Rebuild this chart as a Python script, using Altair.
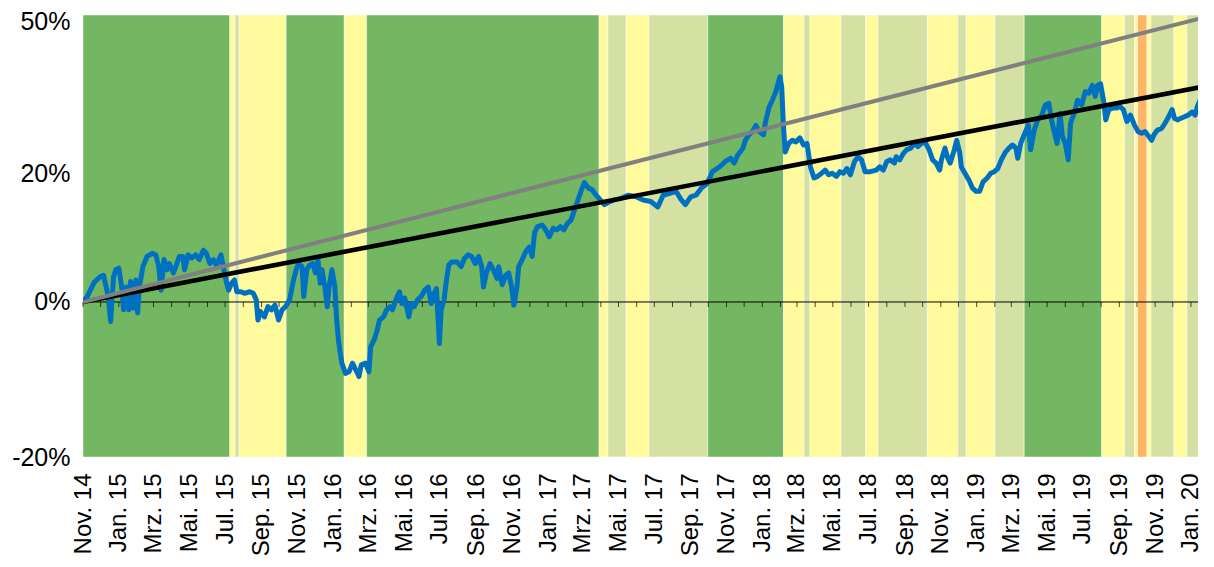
import altair as alt
import pandas as pd

START = pd.Timestamp("2014-11-01")
END_DAY = 1912       # last observation (days after START)
VISIBLE_DAY = 1899   # right edge of the visible window

# ---- background phases (start day of each phase, phase class) ----
band_start_days = [0, 250, 259, 266, 346, 445, 483, 879, 894, 925, 964, 1064,
                   1193, 1228, 1238, 1291, 1333, 1354, 1438, 1490, 1504, 1553,
                   1603, 1735, 1774, 1791, 1796, 1812, 1819, 1858, 1880]
band_phase = ["grün", "gelb", "hellgrün", "gelb", "grün", "gelb", "grün", "gelb",
              "hellgrün", "gelb", "hellgrün", "grün", "gelb", "hellgrün", "gelb",
              "hellgrün", "gelb", "hellgrün", "gelb", "hellgrün", "gelb",
              "hellgrün", "grün", "gelb", "hellgrün", "gelb", "orange", "gelb",
              "hellgrün", "gelb", "hellgrün"]
phase_names = ["grün", "hellgrün", "gelb", "orange"]
phase_colors = ["#74B762", "#D4E1A3", "#FFFA9C", "#FFB466"]

# ---- performance series (days after START, % ) ----
perf_days = [0, 8, 19, 29, 35, 38, 43, 47, 52, 56, 61, 66, 69, 74, 78, 81, 86, 90,
             93, 96, 102, 109, 118, 124, 129, 133, 138, 143, 147, 154, 158, 164,
             170, 173, 179, 185, 192, 198, 205, 210, 216, 222, 227, 235, 240, 244,
             248, 253, 258, 262, 269, 275, 284, 290, 295, 298, 302, 309, 315, 321,
             327, 333, 339, 345, 352, 358, 363, 367, 373, 376, 381, 386, 391, 396,
             400, 404, 407, 412, 416, 419, 424, 429, 432, 435, 438, 441, 447, 453,
             459, 465, 470, 474, 481, 487, 490, 496, 501, 505, 512, 517, 523, 527,
             533, 539, 543, 548, 555, 559, 564, 570, 576, 582, 588, 593, 598, 602,
             607, 610, 615, 619, 623, 628, 637, 644, 650, 656, 662, 668, 674, 679,
             682, 687, 693, 699, 705, 708, 714, 720, 725, 730, 734, 739, 742, 748,
             754, 760, 765, 769, 774, 782, 788, 794, 801, 807, 813, 819, 825, 831,
             837, 844, 849, 854, 861, 867, 874, 881, 888, 895, 905, 917, 928, 942,
             954, 967, 979, 988, 998, 1010, 1019, 1026, 1035, 1044, 1053, 1063,
             1072, 1084, 1094, 1103, 1109, 1115, 1124, 1128, 1134, 1140, 1146,
             1152, 1159, 1162, 1168, 1174, 1180, 1184, 1187, 1190, 1193, 1196,
             1202, 1208, 1214, 1221, 1227, 1233, 1239, 1245, 1251, 1258, 1264,
             1270, 1276, 1283, 1289, 1295, 1301, 1307, 1314, 1320, 1326, 1332,
             1341, 1351, 1357, 1363, 1369, 1375, 1382, 1385, 1391, 1397, 1403,
             1410, 1416, 1422, 1428, 1434, 1441, 1447, 1453, 1459, 1462, 1468,
             1473, 1477, 1484, 1488, 1493, 1496, 1502, 1509, 1515, 1521, 1527,
             1533, 1540, 1546, 1552, 1558, 1564, 1571, 1577, 1583, 1589, 1592,
             1597, 1603, 1610, 1614, 1620, 1626, 1633, 1639, 1645, 1649, 1654,
             1659, 1664, 1668, 1673, 1678, 1682, 1688, 1694, 1701, 1707, 1713,
             1719, 1724, 1728, 1733, 1738, 1742, 1747, 1753, 1760, 1766, 1772,
             1778, 1784, 1791, 1797, 1803, 1809, 1815, 1820, 1824, 1830, 1837,
             1843, 1849, 1855, 1859, 1864, 1870, 1876, 1882, 1889, 1894, 1898,
             1905, 1911]
perf_values = [0.0, 0.8, 2.5, 3.2, 3.4, 2.4, 0.7, -2.5, 3.2, 4.1, 4.3, 1.9, -1.0,
               1.9, -1.0, 2.6, -0.8, 2.8, -1.4, 1.9, 4.5, 5.8, 6.2, 6.0, 4.5, 1.5,
               5.4, 4.1, 4.9, 3.7, 4.5, 5.8, 5.8, 4.1, 6.0, 5.6, 6.0, 5.4, 6.6,
               6.2, 4.9, 5.4, 4.7, 6.0, 4.1, 2.6, 1.5, 2.4, 2.8, 1.3, 1.3, 1.1,
               1.3, 1.1, 0.3, -2.3, -1.2, -1.9, -0.6, -1.0, -0.4, -2.3, -1.0,
               -0.6, 0.3, 2.6, 4.1, 4.9, 4.5, 0.7, 4.1, 4.7, 4.9, 3.7, 5.4, 2.4,
               4.1, 1.9, -0.6, 1.9, 4.1, 1.9, -2.3, -4.8, -6.5, -7.8, -9.1, -8.9,
               -7.8, -8.7, -9.5, -8.0, -7.8, -8.9, -5.7, -4.8, -3.6, -2.3, -1.9,
               -1.0, -0.6, -1.0, 0.3, 1.3, -0.2, 0.5, -1.9, -0.2, -0.6, 0.3, 0.7,
               1.5, 1.9, -0.2, 1.1, 1.7, -5.3, -1.0, 0.3, 2.8, 4.7, 5.1, 5.1, 4.5,
               5.6, 6.0, 5.8, 4.9, 5.8, 4.5, 1.9, 3.7, 4.9, 4.1, 3.0, 4.5, 2.2,
               3.4, 3.7, 1.9, -0.4, 1.9, 4.5, 5.4, 6.4, 7.0, 5.8, 8.8, 9.6, 9.8,
               9.2, 8.3, 9.4, 9.2, 9.6, 9.2, 10.0, 10.4, 11.7, 13.2, 14.3, 15.2,
               14.5, 14.3, 13.6, 13.0, 12.4, 12.7, 13.0, 13.2, 13.6, 13.4, 13.0,
               12.8, 12.1, 13.6, 13.8, 14.1, 13.0, 12.4, 13.4, 13.6, 14.5, 15.1,
               16.6, 17.2, 17.9, 18.3, 17.7, 18.7, 19.6, 20.6, 21.3, 21.7, 22.5,
               21.7, 21.3, 22.8, 24.7, 25.7, 26.8, 27.9, 28.7, 27.4, 22.3, 19.1,
               20.2, 20.6, 20.4, 20.9, 20.0, 20.2, 17.2, 15.8, 16.0, 16.4, 16.8,
               16.2, 16.4, 16.0, 16.6, 16.4, 17.0, 16.2, 17.9, 18.5, 18.1, 16.6,
               16.6, 16.8, 17.2, 16.8, 17.9, 18.1, 17.7, 18.5, 18.1, 18.9, 19.4,
               19.6, 20.2, 19.8, 20.2, 20.4, 19.4, 18.1, 17.7, 16.8, 18.1, 19.6,
               18.3, 17.7, 19.4, 20.6, 19.1, 17.2, 16.4, 15.5, 14.5, 14.1, 14.1,
               15.3, 15.8, 16.4, 16.6, 17.0, 18.1, 19.1, 19.6, 20.0, 19.6, 18.3,
               20.2, 21.3, 22.5, 19.4, 21.9, 23.2, 23.8, 25.1, 25.3, 23.4, 21.7,
               20.2, 24.0, 21.1, 20.2, 18.1, 22.8, 24.0, 25.7, 25.1, 26.8, 26.6,
               27.6, 26.2, 27.6, 27.8, 25.7, 23.2, 24.5, 24.7, 24.7, 24.9, 24.5,
               23.0, 23.8, 22.5, 21.7, 21.5, 21.7, 21.1, 20.6, 21.3, 21.9, 22.1,
               22.8, 23.6, 24.5, 23.4, 23.2, 23.4, 23.6, 23.8, 24.2, 23.8, 24.9,
               26.2, 26.8]

# ---- straight reference lines ----
trend_days = [0, END_DAY]
trend_black = [0.0, 27.5]
trend_gray = [0.0, 36.3]

# ---- axis labels ----
month_abbr = ["Jan.", "Feb.", "Mrz.", "Apr.", "Mai.", "Jun.", "Jul.", "Aug.",
              "Sep.", "Okt.", "Nov.", "Dez."]
y_tick_values = [-19.75, 0, 16.4, 35.75]
y_tick_labels = ["-20%", "0%", "20%", "50%"]


def to_date(days):
    return [(START + pd.Timedelta(days=int(d))).strftime("%Y-%m-%d") for d in days]


end_date = START + pd.Timedelta(days=END_DAY)
vis_date = START + pd.Timedelta(days=VISIBLE_DAY)

bands = pd.DataFrame({
    "start": to_date(band_start_days),
    "end": to_date(band_start_days[1:] + [END_DAY]),
    "phase": band_phase,
})
perf = pd.DataFrame({"date": to_date(perf_days), "value": perf_values})
trend = pd.DataFrame({
    "date": to_date(trend_days) * 2,
    "value": trend_black + trend_gray,
    "series": ["schwarz", "schwarz", "grau", "grau"],
})
month_ticks = pd.DataFrame({
    "date": [d.strftime("%Y-%m-%d") for d in pd.date_range(START, vis_date, freq="MS")],
    "zero": 0,
})
label_dates = pd.date_range(START, vis_date, freq="2MS")

x_scale = alt.Scale(
    type="utc",
    domain=[alt.DateTime(year=START.year, month=START.month, date=START.day, utc=True),
            alt.DateTime(year=vis_date.year, month=vis_date.month, date=vis_date.day, utc=True)],
)
y_scale = alt.Scale(domain=[-19.75, 36.56], nice=False, zero=False)

month_js = "[" + ",".join("'%s'" % m for m in month_abbr) + "]"
x_axis = alt.Axis(
    values=[alt.DateTime(year=d.year, month=d.month, date=1, utc=True) for d in label_dates],
    labelExpr=month_js + "[utcmonth(datum.value)] + ' ' + utcFormat(datum.value, '%y')",
    labelAngle=-90, labelAlign="right", labelBaseline="middle",
    labelFontSize=24, labelFont="Liberation Sans", labelColor="black",
    labelPadding=16, ticks=False, domain=False, grid=False, title=None,
    labelFlush=False, labelOverlap=False, labelBound=False,
)
y_label_expr = " : ".join(
    "abs(datum.value - (%s)) < 0.5 ? '%s'" % (v, t) for v, t in zip(y_tick_values, y_tick_labels)
) + " : ''"
y_axis = alt.Axis(
    values=y_tick_values, labelExpr=y_label_expr,
    labelFontSize=25, labelFont="Liberation Sans", labelColor="black",
    labelPadding=13, ticks=False, domain=False, grid=False, title=None,
    labelFlush=False, labelOverlap=False,
)

band_layer = alt.Chart(bands).mark_rect(
    stroke="white", strokeWidth=1, strokeOpacity=0.45, clip=True
).encode(
    x=alt.X("start:T", scale=x_scale, axis=x_axis),
    x2="end:T",
    color=alt.Color("phase:N", scale=alt.Scale(domain=phase_names, range=phase_colors), legend=None),
)

zero_rule = alt.Chart(month_ticks).mark_rule(color="black", strokeWidth=1).encode(
    y=alt.Y("mean(zero):Q", scale=y_scale, axis=y_axis),
)

tick_layer = alt.Chart(month_ticks).mark_tick(
    orient="vertical", color="black", size=5, thickness=1, yOffset=2.5
).encode(
    x=alt.X("date:T", scale=x_scale, axis=x_axis),
    y=alt.Y("zero:Q", scale=y_scale, axis=y_axis),
)

blue_line = alt.Chart(perf).mark_line(
    color="#0070C0", strokeWidth=5, strokeJoin="round", strokeCap="round", clip=True
).encode(
    x=alt.X("date:T", scale=x_scale, axis=x_axis),
    y=alt.Y("value:Q", scale=y_scale, axis=y_axis),
)

trend_lines = alt.Chart(trend).mark_line(strokeCap="butt", clip=True).encode(
    x=alt.X("date:T", scale=x_scale, axis=x_axis),
    y=alt.Y("value:Q", scale=y_scale, axis=y_axis),
    detail="series:N",
    color=alt.Color("series:N", scale=alt.Scale(domain=["grau", "schwarz"], range=["#808080", "#000000"]), legend=None),
    strokeWidth=alt.StrokeWidth("series:N", scale=alt.Scale(domain=["grau", "schwarz"], range=[4.0, 4.6]), legend=None),
)

chart = alt.layer(band_layer, zero_rule, tick_layer, blue_line, trend_lines).resolve_scale(
    color="independent", strokeWidth="independent"
).properties(
    width=1115, height=442,
    autosize=alt.AutoSizeParams(type="none"),
    padding={"left": 75, "top": 7, "right": 8, "bottom": 98},
    background="white",
).configure_view(stroke=None).configure_axis(labelOverlap=False)

chart.save("out.html", embed_options={"renderer": "svg", "actions": False})
